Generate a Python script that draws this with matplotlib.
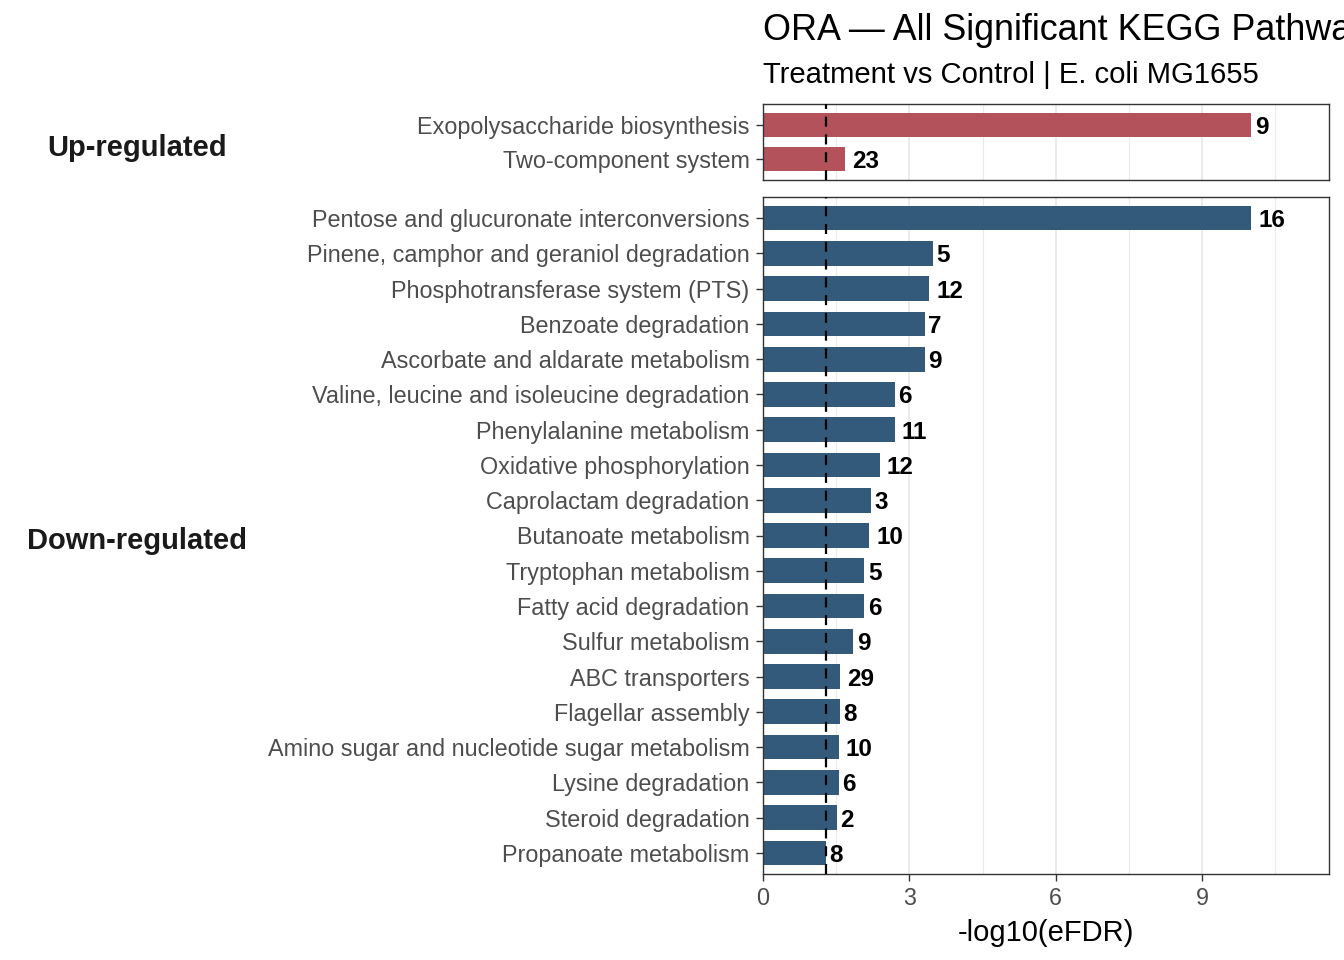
import matplotlib
matplotlib.use("Agg")
import matplotlib.pyplot as plt
from matplotlib.ticker import FixedLocator

plt.rcParams['font.family'] = ['Liberation Sans', 'DejaVu Sans']

up_pathways = ["Exopolysaccharide biosynthesis", "Two-component system"]
up_values = [10.01, 1.69]
up_counts = [9, 23]

down_pathways = [
    "Pentose and glucuronate interconversions",
    "Pinene, camphor and geraniol degradation",
    "Phosphotransferase system (PTS)",
    "Benzoate degradation",
    "Ascorbate and aldarate metabolism",
    "Valine, leucine and isoleucine degradation",
    "Phenylalanine metabolism",
    "Oxidative phosphorylation",
    "Caprolactam degradation",
    "Butanoate metabolism",
    "Tryptophan metabolism",
    "Fatty acid degradation",
    "Sulfur metabolism",
    "ABC transporters",
    "Flagellar assembly",
    "Amino sugar and nucleotide sugar metabolism",
    "Lysine degradation",
    "Steroid degradation",
    "Propanoate metabolism",
]
down_values = [10.01, 3.49, 3.41, 3.31, 3.31, 2.71, 2.71, 2.40, 2.22, 2.18,
               2.08, 2.08, 1.85, 1.58, 1.58, 1.56, 1.56, 1.52, 1.29]
down_counts = [16, 5, 12, 7, 9, 6, 11, 12, 3, 10, 5, 6, 9, 29, 8, 10, 6, 2, 8]

groups = ["Up-regulated", "Down-regulated"]
threshold = 1.30
x_max = 11.59
major_ticks = [0, 3, 6, 9]
minor_ticks = [1.5, 4.5, 7.5, 10.5]

title = "ORA \u2014 All Significant KEGG Pathways"
subtitle = "Treatment vs Control | E. coli MG1655"
xlabel = "-log10(eFDR)"

UP_COLOR = "#B3525B"
DOWN_COLOR = "#335A7A"

W, H = 1344, 960
fig = plt.figure(figsize=(W / 100, H / 100), dpi=100)

def px_rect(left, top, right, bottom):
    return [left / W, 1 - bottom / H, (right - left) / W, (bottom - top) / H]

ax_up = fig.add_axes(px_rect(763, 104, 1328.5, 180))
ax_dn = fig.add_axes(px_rect(763, 197, 1328.5, 874))

label_fs = 17.5
tick_fs = 16.8

def draw(ax, names, vals, counts, color, show_x):
    n = len(names)
    ys = list(range(n))
    ax.barh(ys, vals, height=0.7, color=color, zorder=2)
    ax.set_ylim(n - 1 + 0.6, -0.6)
    ax.set_xlim(0, x_max)
    ax.set_yticks(ys)
    ax.set_yticklabels(names, fontsize=tick_fs, color="#4D4D4D")
    ax.xaxis.set_major_locator(FixedLocator(major_ticks))
    ax.xaxis.set_minor_locator(FixedLocator(minor_ticks))
    ax.grid(axis="x", which="major", color="#EBEBEB", linewidth=1.4, zorder=0)
    ax.grid(axis="x", which="minor", color="#EBEBEB", linewidth=0.8, zorder=0)
    ax.set_axisbelow(True)
    ax.axvline(threshold, color="black", linestyle=(0, (4.5, 3.5)), linewidth=1.6, zorder=3)
    for y, v, c in zip(ys, vals, counts):
        nd = len(str(c))
        off = 0.25 * nd * 0.556 * label_fs
        ax.annotate(str(c), xy=(v, y), xytext=(off, 0), textcoords="offset points",
                    ha="left", va="center_baseline", fontsize=label_fs, fontweight="bold",
                    color="black", zorder=4)
    for s in ax.spines.values():
        s.set_color("#333333")
        s.set_linewidth(1.0)
    ax.tick_params(axis="y", length=5, width=1.0, color="#333333", pad=4.8)
    ax.tick_params(axis="x", which="minor", length=0)
    if show_x:
        ax.tick_params(axis="x", which="major", length=5, width=1.0, color="#333333",
                       pad=4.2, labelsize=tick_fs, labelcolor="#4D4D4D")
        ax.set_xticklabels([str(t) for t in major_ticks])
        ax.set_xlabel(xlabel, fontsize=21, color="black", labelpad=6.5)
    else:
        ax.tick_params(axis="x", which="major", length=0, labelbottom=False)

draw(ax_up, up_pathways, up_values, up_counts, UP_COLOR, False)
draw(ax_dn, down_pathways, down_values, down_counts, DOWN_COLOR, True)

fig.text(137 / W, 1 - 145 / H, groups[0], ha="center", va="center_baseline",
         fontsize=21, fontweight="bold", color="#1A1A1A")
fig.text(137 / W, 1 - 538 / H, groups[1], ha="center", va="center_baseline",
         fontsize=21, fontweight="bold", color="#1A1A1A")

fig.text(763 / W, 1 - 40 / H, title, ha="left", va="baseline", fontsize=25.8, color="black")
fig.text(763 / W, 1 - 83 / H, subtitle, ha="left", va="baseline", fontsize=21.1, color="black")

fig.savefig("out.png", dpi=100, facecolor="white")
